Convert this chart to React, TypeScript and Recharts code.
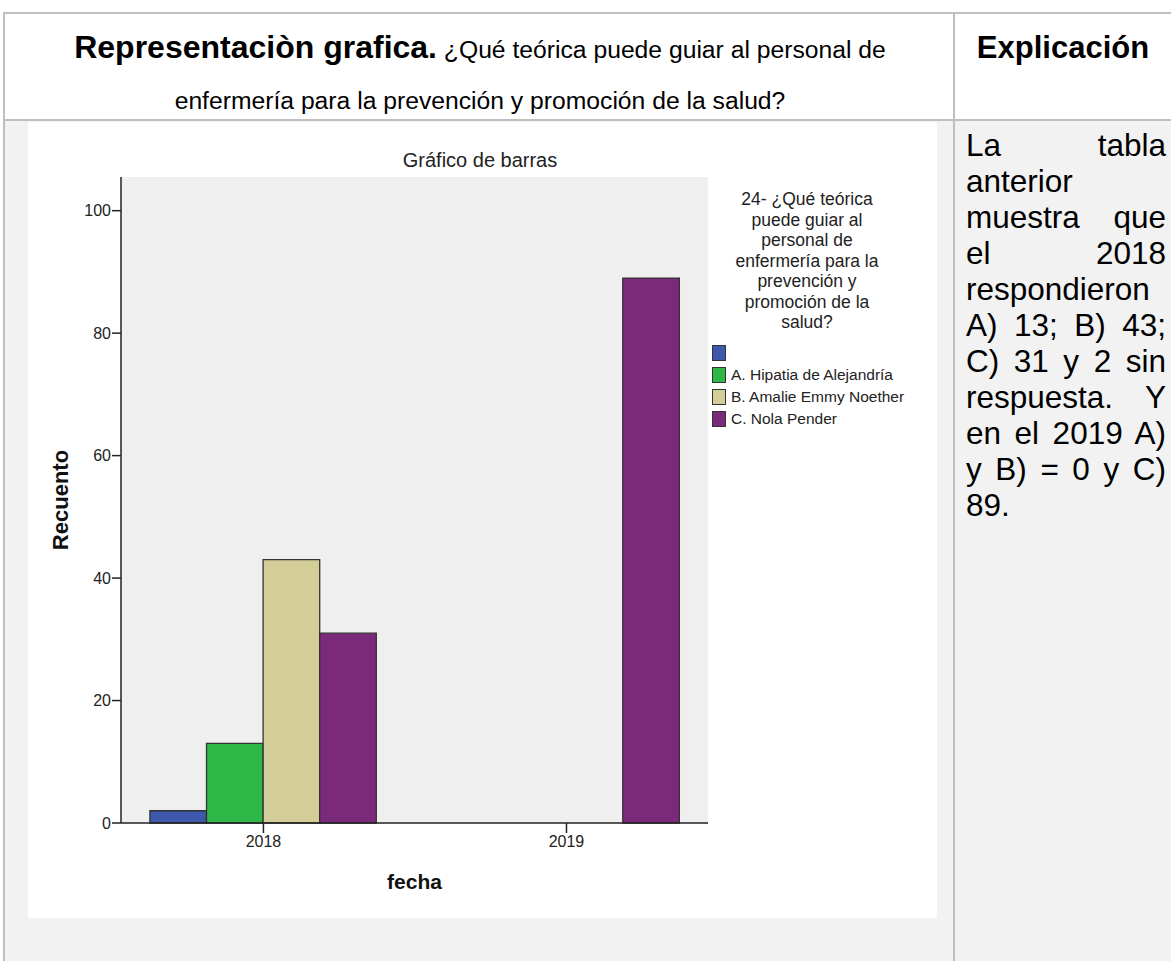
import React from 'react';
import { BarChart, Bar, XAxis, YAxis, CartesianGrid, Legend } from 'recharts';

// fecha (year) and counts per answer
const years = [2018, 2019];
const sinRespuesta = [2, 0];
const hipatia = [13, 0];
const noether = [43, 0];
const pender = [31, 89];
const yTicks = [0, 20, 40, 60, 80, 100];

const legendTitle = [
    '24- ¿Qué teórica',
    'puede guiar al',
    'personal de',
    'enfermería para la',
    'prevención y',
    'promoción de la',
    'salud?',
];

const series = [
    { key: 'blank', label: '', color: '#3e58ac' },
    { key: 'A', label: 'A. Hipatia de Alejandría', color: '#2eb848' },
    { key: 'B', label: 'B. Amalie Emmy Noether', color: '#d3ce97' },
    { key: 'C', label: 'C. Nola Pender', color: '#7b2a7b' },
];

const data = years.map((year, i) => ({
    year,
    blank: sinRespuesta[i],
    A: hipatia[i],
    B: noether[i],
    C: pender[i],
}));

const chartFont = "'Liberation Sans', Arial, sans-serif";
const docFont = "Arial, 'Liberation Sans', sans-serif";
const lineColor = '#bfbfbf';

const renderLegend = () => (
    <div style={{ fontFamily: chartFont, color: '#222' }}>
        <div style={{ width: 190, textAlign: 'center', fontSize: 17.5, lineHeight: '20.5px' }}>
            {legendTitle.map((t) => (
                <div key={t}>{t}</div>
            ))}
        </div>
        <div style={{ marginTop: 9.5 }}>
            {series.map((s) => (
                <div key={s.key} style={{ display: 'flex', alignItems: 'center', height: 22 }}>
                    <div
                        style={{
                            boxSizing: 'border-box',
                            width: 14,
                            height: 16,
                            background: s.color,
                            border: '1px solid #333',
                        }}
                    />
                    <span style={{ marginLeft: 5, fontSize: 15.5, whiteSpace: 'nowrap' }}>{s.label}</span>
                </div>
            ))}
        </div>
    </div>
);

const App: React.FC = () => {
    return (
        <div style={{ position: 'absolute', left: 0, top: 0, width: 1171, height: 961, overflow: 'hidden', background: '#fff' }}>
            {/* table body background */}
            <div style={{ position: 'absolute', left: 4, top: 121, width: 1167, height: 840, background: '#f2f2f2' }} />
            {/* table lines */}
            <div style={{ position: 'absolute', left: 4, top: 12, width: 1167, height: 2, background: lineColor }} />
            <div style={{ position: 'absolute', left: 4, top: 119, width: 1167, height: 2, background: lineColor }} />
            <div style={{ position: 'absolute', left: 3, top: 12, width: 2, height: 949, background: lineColor }} />
            <div style={{ position: 'absolute', left: 953, top: 12, width: 2, height: 949, background: lineColor }} />

            {/* header */}
            <div
                style={{
                    position: 'absolute',
                    left: 0,
                    top: 27,
                    width: 960,
                    textAlign: 'center',
                    fontFamily: docFont,
                    color: '#000',
                    fontSize: 24.7,
                    lineHeight: '40px',
                    whiteSpace: 'nowrap',
                }}
            >
                <b style={{ fontSize: 32 }}>Representaciòn grafica.</b> ¿Qué teórica puede guiar al personal de
            </div>
            <div
                style={{
                    position: 'absolute',
                    left: 0,
                    top: 86,
                    width: 960,
                    textAlign: 'center',
                    fontFamily: docFont,
                    color: '#000',
                    fontSize: 24.7,
                    lineHeight: '30px',
                }}
            >
                enfermería para la prevención y promoción de la salud?
            </div>
            <div
                style={{
                    position: 'absolute',
                    left: 955,
                    top: 28,
                    width: 216,
                    textAlign: 'center',
                    fontFamily: docFont,
                    fontWeight: 'bold',
                    fontSize: 31,
                    lineHeight: '40px',
                }}
            >
                Explicación
            </div>

            {/* explanation text */}
            <div
                style={{
                    position: 'absolute',
                    left: 966,
                    top: 127,
                    width: 200,
                    fontFamily: docFont,
                    fontSize: 31.5,
                    lineHeight: '36px',
                    textAlign: 'justify',
                    color: '#000',
                }}
            >
                La tabla anterior muestra que el 2018 respondieron A) 13; B) 43; C) 31 y 2 sin respuesta. Y en el 2019 A) y B) = 0 y C) 89.
            </div>

            {/* chart image area */}
            <div style={{ position: 'absolute', left: 28, top: 122, width: 909, height: 796, background: '#fff' }}>
                <BarChart
                    width={909}
                    height={796}
                    data={data}
                    margin={{ top: 55, right: 229, bottom: 55, left: 33 }}
                    barGap={0}
                >
                    <text
                        x={452}
                        y={45}
                        textAnchor="middle"
                        fontFamily={chartFont}
                        fontSize={20}
                        fill="#222"
                    >
                        Gráfico de barras
                    </text>
                    <CartesianGrid horizontal={false} vertical={false} fill="#efefef" fillOpacity={1} />
                    <XAxis
                        dataKey="year"
                        type="number"
                        domain={[2017.53, 2019.467]}
                        ticks={years}
                        allowDataOverflow
                        height={40}
                        tickSize={10}
                        tickMargin={3}
                        stroke="#222"
                        strokeWidth={1.5}
                        tick={{ fill: '#222', fontSize: 16, fontFamily: chartFont }}
                        label={(props: any) => {
                            const vb = props.viewBox || {};
                            return (
                                <text
                                    x={vb.x + vb.width / 2}
                                    y={vb.y + vb.height + 26}
                                    textAnchor="middle"
                                    fontFamily={chartFont}
                                    fontWeight="bold"
                                    fontSize={21}
                                    fill="#111"
                                >
                                    fecha
                                </text>
                            );
                        }}
                    />
                    <XAxis
                        xAxisId="top"
                        orientation="top"
                        dataKey="year"
                        type="number"
                        domain={[2017.53, 2019.467]}
                        allowDataOverflow
                        height={0}
                        tick={false}
                        tickLine={false}
                        stroke="#222"
                        strokeWidth={1.5}
                    />
                    <YAxis
                        domain={[0, 105.5]}
                        ticks={yTicks}
                        width={60}
                        tickSize={9}
                        tickMargin={1}
                        stroke="#222"
                        strokeWidth={1.5}
                        tick={{ fill: '#222', fontSize: 16, fontFamily: chartFont }}
                        label={(props: any) => {
                            const vb = props.viewBox || {};
                            const cx = vb.x - 1;
                            const cy = vb.y + vb.height / 2;
                            return (
                                <text
                                    x={cx}
                                    y={cy}
                                    transform={`rotate(-90 ${cx} ${cy})`}
                                    textAnchor="middle"
                                    dominantBaseline="central"
                                    fontFamily={chartFont}
                                    fontWeight="bold"
                                    fontSize={22}
                                    fill="#111"
                                >
                                    Recuento
                                </text>
                            );
                        }}
                    />
                    <YAxis
                        yAxisId="right"
                        orientation="right"
                        domain={[0, 105.5]}
                        width={0}
                        tick={false}
                        tickLine={false}
                        stroke="#222"
                        strokeWidth={1.5}
                    />
                    <Legend
                        layout="vertical"
                        align="center"
                        verticalAlign="middle"
                        content={renderLegend}
                        wrapperStyle={{ left: 684, top: 67, width: 215, height: 260 }}
                    />
                    {series.map((s) => (
                        <Bar
                            key={s.key}
                            dataKey={s.key}
                            name={s.label}
                            fill={s.color}
                            stroke="#333"
                            strokeWidth={1.3}
                            barSize={56.6}
                            isAnimationActive={false}
                        />
                    ))}
                </BarChart>
            </div>
        </div>
    );
};

export default App;
